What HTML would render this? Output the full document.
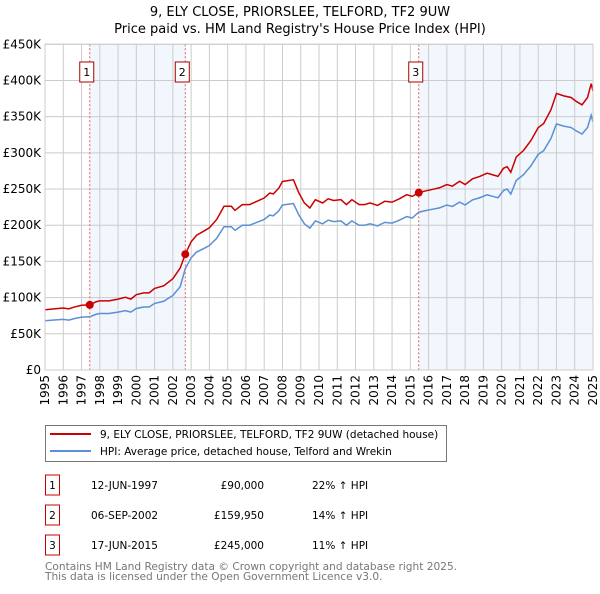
<!DOCTYPE html>
<html><head><meta charset="utf-8">
<style>
body{margin:0;background:#fff;font-family:"DejaVu Sans","Liberation Sans",sans-serif;}
svg text{font-family:"DejaVu Sans","Liberation Sans",sans-serif;}
</style></head>
<body>
<svg id="chart" width="600" height="590" xmlns="http://www.w3.org/2000/svg">
<text x="300" y="16" text-anchor="middle" font-size="13">9, ELY CLOSE, PRIORSLEE, TELFORD, TF2 9UW</text>
<text x="300" y="33" text-anchor="middle" font-size="13">Price paid vs. HM Land Registry's House Price Index (HPI)</text>
<g id="plot"></g>
<g>
<rect x="45.5" y="425.5" width="401" height="36" fill="#fff" stroke="#777"/>
<line x1="50" y1="434" x2="91" y2="434" stroke="#cc0000" stroke-width="2"/>
<text x="100" y="438" font-size="10.5">9, ELY CLOSE, PRIORSLEE, TELFORD, TF2 9UW (detached house)</text>
<line x1="50" y1="451" x2="91" y2="451" stroke="#5b8fd6" stroke-width="2"/>
<text x="100" y="455" font-size="10.5">HPI: Average price, detached house, Telford and Wrekin</text>
</g>
<g id="table" font-size="10.5"></g>
<text x="45" y="570" font-size="10.6" fill="#777">Contains HM Land Registry data © Crown copyright and database right 2025.</text>
<text x="45" y="580" font-size="10.6" fill="#777">This data is licensed under the Open Government Licence v3.0.</text>
</svg>
<script>
const hpiYears=[1995,1995.5,1996,1996.3,1996.6,1997,1997.45,1997.8,1998,1998.5,1999,1999.4,1999.7,2000,2000.4,2000.7,2001,2001.5,2002,2002.4,2002.68,2003,2003.3,2003.7,2004,2004.4,2004.8,2005.2,2005.4,2005.8,2006.2,2006.6,2007,2007.3,2007.5,2007.8,2008,2008.3,2008.6,2008.9,2009.2,2009.5,2009.8,2010.2,2010.5,2010.8,2011.2,2011.5,2011.8,2012.2,2012.5,2012.8,2013.2,2013.6,2014,2014.4,2014.8,2015.1,2015.46,2015.8,2016.2,2016.6,2017,2017.3,2017.7,2018,2018.4,2018.8,2019.2,2019.5,2019.8,2020.1,2020.3,2020.5,2020.8,2021.2,2021.6,2022,2022.3,2022.7,2023,2023.4,2023.8,2024.1,2024.4,2024.7,2024.9,2025];
const hpiValues=[68,69,70,69,71,73,73.5,77,78,78,80,82,80,85,87,87,92,95,103,115,140,155,163,168,172,182,198,198,193,200,200,204,208,214,213,220,228,229,230,214,202,196,206,202,207,205,206,200,206,200,200,202,199,204,203,207,212,210,218,220,222,224,228,226,232,228,235,238,242,240,238,248,250,243,262,270,282,298,303,320,340,337,335,330,326,335,352,343].map(v=>v*1000);
const saleYears=[1997.45,2002.68,2015.46];
const salePrices=[90000,159950,245000];
const saleDates=["12-JUN-1997","06-SEP-2002","17-JUN-2015"];
const saleLabels=["£90,000","£159,950","£245,000"];
const saleDiffs=["22% ↑ HPI","14% ↑ HPI","11% ↑ HPI"];
const yTicks=[0,50000,100000,150000,200000,250000,300000,350000,400000,450000];
const yTickLabels=["£0","£50K","£100K","£150K","£200K","£250K","£300K","£350K","£400K","£450K"];
const xTicks=[1995,1996,1997,1998,1999,2000,2001,2002,2003,2004,2005,2006,2007,2008,2009,2010,2011,2012,2013,2014,2015,2016,2017,2018,2019,2020,2021,2022,2023,2024,2025];

const X0=45,X1=593,Y0=370,Y1=44.3;
const xs=y=>X0+(y-1995)/30*(X1-X0);
const ys=v=>Y0-v/450000*(Y0-Y1);
const NS="http://www.w3.org/2000/svg";
const plot=document.getElementById('plot');
function mk(tag,attrs,parent){const e=document.createElementNS(NS,tag);for(const k in attrs)e.setAttribute(k,attrs[k]);(parent||plot).appendChild(e);return e;}
function hpiAt(t){for(let i=1;i<hpiYears.length;i++){if(t<=hpiYears[i]){const a=hpiYears[i-1],b=hpiYears[i];return hpiValues[i-1]+(hpiValues[i]-hpiValues[i-1])*(t-a)/(b-a);}}return hpiValues[hpiValues.length-1];}

const sh1=mk('rect',{x:xs(saleYears[0]),y:Y1,width:xs(saleYears[1])-xs(saleYears[0]),height:Y0-Y1,fill:'#eef3fc',opacity:0.75});


const sh2=mk('rect',{x:xs(saleYears[2]),y:Y1,width:X1-xs(saleYears[2]),height:Y0-Y1,fill:'#eef3fc',opacity:0.75});



yTicks.forEach((t,i)=>{
 const l=mk('line',{x1:X0,x2:X1,y1:ys(t),y2:ys(t),stroke:'#cccccc','stroke-width':1});
 
 
 const tx=mk('text',{x:X0-4,y:ys(t)+4,'text-anchor':'end','font-size':12});
 
 
 tx.textContent=yTickLabels[i];
});
xTicks.forEach(t=>{
 const l=mk('line',{x1:xs(t),x2:xs(t),y1:Y1,y2:Y0,stroke:'#cccccc','stroke-width':1});
 
 
 const tx=mk('text',{x:0,y:0,'text-anchor':'end','font-size':12,transform:`translate(${xs(t)+4},${Y0+5}) rotate(-90)`});
 
 
 tx.textContent=t;
});

const hp=mk('polyline',{points:hpiYears.map((y,i)=>xs(y)+','+ys(hpiValues[i])).join(' '),fill:'none',stroke:'#5b8fd6','stroke-width':1.5});



function ratioAt(t){let k=0;for(let i=0;i<saleYears.length;i++){if(t>=saleYears[i])k=i;}return salePrices[k]/hpiAt(saleYears[k]);}
const pts=hpiYears.map((y,i)=>[y,hpiValues[i]*ratioAt(y)]);
const pl=mk('polyline',{points:pts.map(p=>xs(p[0])+','+ys(p[1])).join(' '),fill:'none',stroke:'#cc0000','stroke-width':1.5});



saleYears.forEach((s,i)=>{
 const v=mk('line',{x1:xs(s),x2:xs(s),y1:Y1,y2:Y0,stroke:'#e06060','stroke-width':1,'stroke-dasharray':'2,2'});
 
 
 const c=mk('circle',{cx:xs(s),cy:ys(salePrices[i]),r:4,fill:'#cc0000'});
 
 
 const b=mk('rect',{x:xs(s)-10,y:62,width:14,height:20,fill:'#fff',stroke:'#aa0000'});
 
 
 const t=mk('text',{x:xs(s)-3,y:76,'text-anchor':'middle','font-size':11});
 
 
 t.textContent=i+1;
});
const fr=mk('rect',{x:X0,y:Y1,width:X1-X0,height:Y0-Y1,fill:'none',stroke:'#cccccc'});



const tb=document.getElementById('table');
saleYears.forEach((s,i)=>{
 const cy=483+i*30;
 const r=mk('rect',{x:45.5,y:cy-8,width:14,height:20,fill:'#fff',stroke:'#cc0000'},tb);
 
 
 const n=mk('text',{x:52.5,y:cy+6,'text-anchor':'middle'},tb);
 
 
 n.textContent=i+1;
 const d=mk('text',{x:91,y:cy+6},tb);
 
 
 d.textContent=saleDates[i];
 const p=mk('text',{x:264,y:cy+6,'text-anchor':'end'},tb);
 
 
 p.textContent=saleLabels[i];
 const h=mk('text',{x:312,y:cy+6},tb);
 
 
 h.textContent=saleDiffs[i];
});
</script>
</body></html>
